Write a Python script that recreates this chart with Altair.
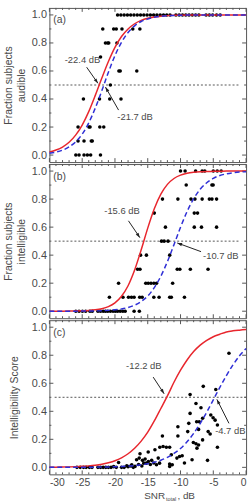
import math
import altair as alt
import pandas as pd

FONT = "Liberation Sans"
GRAY = "#4a4a4a"
FRAME = "#555555"
RED = "#e8262d"
BLUE = "#2f2fd6"

W, H = 199, 156
XDOM = [-30, 0]
YDOM = [-0.05, 1.05]

# ---------------- data ----------------
x_major = [-30, -25, -20, -15, -10, -5, 0]
x_minor = [-29, -28, -27, -26, -24, -23, -22, -21, -19, -18, -17, -16,
           -14, -13, -12, -11, -9, -8, -7, -6, -4, -3, -2, -1]
y_major = [0.0, 0.2, 0.4, 0.6, 0.8, 1.0]
y_minor = [0.1, 0.3, 0.5, 0.7, 0.9]

curve_x = [-30, -29, -28, -27, -26, -25, -24, -23, -22, -21, -20, -19, -18, -17, -16,
           -15, -14, -13, -12, -11, -10, -9, -8, -7, -6, -5, -4, -3, -2, -1, 0]

# (a) audible
a_red = [0.022, 0.036, 0.057, 0.091, 0.142, 0.214, 0.31, 0.426, 0.55, 0.668, 0.769, 0.846,
         0.90, 0.937, 0.961, 0.976, 0.985, 0.991, 0.995, 0.997, 0.998, 0.999,
         1.0, 1.0, 1.0, 1.0, 1.0, 1.0, 1.0, 1.0, 1.0]
a_blue = [0.0125, 0.021, 0.035, 0.058, 0.094, 0.149, 0.23, 0.336, 0.46, 0.591, 0.71, 0.805,
          0.875, 0.922, 0.953, 0.971, 0.983, 0.99, 0.994, 0.996, 0.998, 0.999,
          1.0, 1.0, 1.0, 1.0, 1.0, 1.0, 1.0, 1.0, 1.0]
a_rows = [
    (1.0, [-19.6, -19.1, -18.6, -18.1, -17.6, -17.1, -16.6, -16.1, -15.6, -15.1, -14.6,
           -14.1, -13.6, -13.1, -12.6, -12.1, -11.6, -10.7, -10.2, -9.7, -9.2, -8.7, -8.2,
           -7.7, -7.2, -6.1, -5.6, -5.1, -4.5, -3.95]),
    (0.9, [-21.86, -20.2, -19.8, -18.93, -17.28, -16.2]),
    (0.8, [-21.45, -21.1, -20.95, -19.7]),
    (0.7, [-22.2]),
    (0.6, [-19.4, -19.2, -16.67]),
    (0.5, [-20.7]),
    (0.4, [-24.81, -22.36, -20.8, -19.08]),
    (0.2, [-25.63, -23.97, -23.8, -22.31, -21.71]),
    (0.1, [-25.63, -24.72, -23.61, -23.46]),
    (0.0, [-25.97, -25.48, -24.72, -24.21, -23.71, -22.21]),
]

# (b) intelligible
b_red = [0.0001, 0.0002, 0.0004, 0.0008, 0.0015, 0.0028, 0.0052, 0.0097, 0.018, 0.033, 0.06,
         0.107, 0.182, 0.294, 0.438, 0.593, 0.731, 0.835, 0.905, 0.947, 0.971, 0.984, 0.991,
         0.995, 0.997, 0.998, 0.999, 1.0, 1.0, 1.0, 1.0]
b_blue = [0.0001, 0.0001, 0.0002, 0.0003, 0.0005, 0.0008, 0.0014, 0.0022, 0.0037, 0.006,
          0.0099, 0.0163, 0.0266, 0.0431, 0.0691, 0.109, 0.168, 0.25, 0.354, 0.475, 0.599,
          0.711, 0.802, 0.87, 0.917, 0.948, 0.968, 0.98, 0.988, 0.993, 0.995]
b_rows = [
    (1.0, [-10.0, -9.3, -7.7, -6.7, -6.3, -5.0, -4.4, -3.8]),
    (0.9, [-9.13, -5.21, -5.02]),
    (0.8, [-12.75, -10.4, -8.4, -7.8, -6.7, -5.6, -5.2, -4.5]),
    (0.7, [-14.0, -7.9, -7.4]),
    (0.6, [-12.3, -7.9, -6.8, -4.5]),
    (0.5, [-12.9, -12.5, -11.9]),
    (0.4, [-16.1, -15.2, -11.65]),
    (0.3, [-16.55, -16.18, -10.5, -10.1, -8.5, -5.8]),
    (0.2, [-19.45, -15.3, -14.92, -14.5, -14.06, -13.66, -11.2]),
    (0.1, [-20.85, -18.78, -17.94, -17.48, -17.08, -16.23, -15.85, -14.07, -13.27, -11.65,
           -11.4, -9.4]),
    (0.0, [-25.97, -25.48, -24.96, -24.47, -23.82, -23.46, -22.6, -22.2, -21.8, -21.45,
           -21.1, -20.7, -20.3, -19.94, -19.6, -19.2, -18.8, -18.44, -17.08, -16.28]),
]

# (c) intelligibility score
c_red = [0.001, 0.0015, 0.0023, 0.0034, 0.005, 0.0072, 0.0106, 0.0155, 0.0225, 0.033, 0.047,
         0.068, 0.097, 0.136, 0.187, 0.251, 0.331, 0.42, 0.51, 0.607, 0.693, 0.766, 0.826,
         0.872, 0.906, 0.932, 0.95, 0.966, 0.974, 0.979, 0.983]
c_blue = [0.0001, 0.0002, 0.0003, 0.0004, 0.0005, 0.0007, 0.001, 0.0015, 0.0021, 0.003,
          0.0044, 0.0063, 0.009, 0.0128, 0.018, 0.026, 0.036, 0.051, 0.071, 0.099, 0.135,
          0.182, 0.242, 0.313, 0.394, 0.482, 0.571, 0.655, 0.731, 0.796, 0.848]
c_x = [-2.61, -6.53, -4.62, -8.54, -7.64, -6.88, -8.54, -5.38, -5.03, -4.72, -6.63, -7.54,
       -7.14, -4.37, -10.4, -8.74, -7.24, -8.9, -5.78, -5.48, -10.4, -6.63, -8.04, -7.64,
       -7.24, -7.49, -4.37, -12.76, -13.16, -12.66, -12.16, -11.66, -13.9, -14.93, -11.4,
       -11.66, -11.26, -10.15, -10.55, -9.75, -8.24, -9.4, -5.88, -16.18, -19.45, -16.7,
       -16.3, -15.8, -15.4, -14.9, -14.4, -14.07, -13.67, -18.2, -17.44, -16.94, -15.2,
       -13.4, -18.0, -17.6, -17.2, -16.4, -15.9, -15.6, -14.6, -13.2, -11.65,
       -25.8, -25.3, -24.8, -24.4, -23.9, -23.5, -22.6, -22.2, -21.8, -21.4, -21.0, -20.6,
       -20.2, -19.8, -19.0, -18.6]
c_y = [0.814, 0.578, 0.555, 0.519, 0.455, 0.425, 0.385, 0.373, 0.354, 0.337, 0.35, 0.326,
       0.326, 0.302, 0.29, 0.314, 0.271, 0.255, 0.255, 0.238, 0.224, 0.196, 0.177, 0.168,
       0.16, 0.137, 0.144, 0.224, 0.144, 0.149, 0.144, 0.144, 0.125, 0.109, 0.09,
       0.024, 0.019, 0.078, 0.066, 0.083, 0.054, 0.031, 0.05, 0.097, 0.035, 0.054,
       0.066, 0.05, 0.059, 0.042, 0.05, 0.031, 0.019, 0.012, 0.019, 0.007, 0.03,
       0.066, 0.005, 0.01, 0.0, 0.02, 0.01, 0.03, 0.02, 0.03, 0.007,
       0.0, 0.0, 0.0, 0.0, 0.0, 0.0, 0.0, 0.0, 0.0, 0.0, 0.0, 0.0,
       0.005, 0.0, 0.0, 0.0]

# annotations: (text, x, y) and arrows (x1, y1, x2, y2)
a_texts = [("-22.4 dB", -24.96, 0.675), ("-21.7 dB", -16.93, 0.274)]
a_arrows = [(-24.32, 0.627, -22.6, 0.512), (-19.45, 0.321, -21.45, 0.485)]
b_texts = [("-15.6 dB", -18.93, 0.718), ("-10.7 dB", -3.86, 0.394)]
b_arrows = [(-17.94, 0.645, -16.2, 0.525), (-6.87, 0.425, -10.5, 0.487)]
c_texts = [("-12.2 dB", -15.6, 0.724), ("-4.7 dB", -2.41, 0.262)]
c_arrows = [(-14.17, 0.644, -12.5, 0.525), (-2.61, 0.314, -4.45, 0.485)]

hline_start = -29.2
a_hline_end = -1.1
b_hline_end = -1.1
c_hline_end = 0.1

x_title_parts = ["SNR", "total", ", dB"]


def rows_to_df(rows):
    xs, ys = [], []
    for yv, xl in rows:
        for xv in xl:
            xs.append(xv)
            ys.append(yv)
    return pd.DataFrame({"x": xs, "y": ys})


def make_panel(pts, red, blue, hl_end, texts, arrows, tag, ytitle, tpad, bottom):
    xs = alt.Scale(domain=XDOM, nice=False, zero=False)
    ys = alt.Scale(domain=YDOM, nice=False, zero=False)
    if bottom:
        xaxis = alt.Axis(values=x_major, ticks=False, tickSize=0, domain=False, grid=False,
                         labelExpr="toString(datum.value)", labelFontSize=10.5,
                         labelColor=GRAY, labelFont=FONT, labelPadding=3, title=None)
    else:
        xaxis = None
    yaxis = alt.Axis(values=y_major, format=".1f", ticks=False, tickSize=0, domain=False,
                     grid=False, labelFontSize=11, labelColor=GRAY, labelFont=FONT,
                     labelPadding=3, title=ytitle, titleFont=FONT, titleFontSize=10.5,
                     titleFontWeight="normal", titleColor=GRAY, titlePadding=tpad)

    def X(f):
        return alt.X(f, type="quantitative", scale=xs, axis=xaxis)

    def Y(f):
        return alt.Y(f, type="quantitative", scale=ys, axis=yaxis)

    layers = []
    # inward ticks on all four sides
    for vals, ln in ((x_major, 4), (x_minor, 2)):
        d = pd.DataFrame({"v": vals})
        layers.append(alt.Chart(d).mark_rule(color=FRAME, strokeWidth=1).encode(
            x=X("v"), y=alt.value(0), y2=alt.value(ln)))
        layers.append(alt.Chart(d).mark_rule(color=FRAME, strokeWidth=1).encode(
            x=X("v"), y=alt.value(H), y2=alt.value(H - ln)))
    for vals, ln in ((y_major, 4), (y_minor, 2)):
        d = pd.DataFrame({"v": vals})
        layers.append(alt.Chart(d).mark_rule(color=FRAME, strokeWidth=1).encode(
            y=Y("v"), x=alt.value(0), x2=alt.value(ln)))
        layers.append(alt.Chart(d).mark_rule(color=FRAME, strokeWidth=1).encode(
            y=Y("v"), x=alt.value(W), x2=alt.value(W - ln)))

    # dotted 0.5 line
    hl = pd.DataFrame({"x1": [hline_start], "x2": [hl_end], "y": [0.5]})
    layers.append(alt.Chart(hl).mark_rule(strokeDash=[2, 2], color="#555555",
                                          strokeWidth=1).encode(
        x=X("x1"), x2="x2:Q", y=Y("y")))

    # points
    layers.append(alt.Chart(pts).mark_circle(size=13, color="black", opacity=1).encode(
        x=X("x"), y=Y("y")))

    # curves
    cd = pd.DataFrame({"x": curve_x, "red": red, "blue": blue})
    layers.append(alt.Chart(cd).mark_line(color=RED, strokeWidth=1.5,
                                          interpolate="monotone").encode(
        x=X("x"), y=Y("red")))
    layers.append(alt.Chart(cd).mark_line(color=BLUE, strokeWidth=1.5, strokeDash=[5, 3],
                                          interpolate="monotone").encode(
        x=X("x"), y=Y("blue")))

    # arrows
    sx = W / 30.0
    sy = H / 1.1
    ar = []
    for (x1, y1, x2, y2) in arrows:
        dx = (x2 - x1) * sx
        dy = -(y2 - y1) * sy
        ang = math.degrees(math.atan2(dx, -dy)) % 360
        ar.append({"x1": x1, "y1": y1, "x2": x2, "y2": y2, "ang": ang})
    ard = pd.DataFrame(ar)
    layers.append(alt.Chart(ard).mark_rule(color="#222222", strokeWidth=1).encode(
        x=X("x1"), y=Y("y1"), x2="x2:Q", y2="y2:Q"))
    layers.append(alt.Chart(ard).mark_point(shape="M0,0L-0.75,2.2L0.75,2.2Z", filled=True,
                                            size=20, color="#222222", opacity=1).encode(
        x=X("x2"), y=Y("y2"), angle=alt.Angle("ang:Q", scale=None)))

    # annotation text
    td = pd.DataFrame({"t": [t[0] for t in texts], "x": [t[1] for t in texts],
                       "y": [t[2] for t in texts]})
    layers.append(alt.Chart(td).mark_text(font=FONT, fontSize=9.5, color=GRAY,
                                          align="center", baseline="middle").encode(
        x=X("x"), y=Y("y"), text="t:N"))

    # panel tag
    tg = pd.DataFrame({"t": [tag], "x": [-29.4], "y": [0.96]})
    layers.append(alt.Chart(tg).mark_text(font=FONT, fontSize=10.5, color=GRAY,
                                          align="left", baseline="middle").encode(
        x=X("x"), y=Y("y"), text="t:N"))

    if bottom:
        specs = [(x_title_parts[0], 96, 181, 10), (x_title_parts[1], 118, 182.5, 5.5),
                 (x_title_parts[2], 129.5, 181, 10)]
        for (t, px, py, fs) in specs:
            layers.append(alt.Chart(pd.DataFrame({"t": [t]})).mark_text(
                font=FONT, fontSize=fs, color=GRAY, align="left",
                baseline="alphabetic").encode(
                x=alt.value(px), y=alt.value(py), text="t:N"))

    return alt.layer(*layers).properties(width=W, height=H)


pa = make_panel(rows_to_df(a_rows), a_red, a_blue, a_hline_end, a_texts, a_arrows, "(a)",
                ["Fraction subjects", "audible"], 5, False)
pb = make_panel(rows_to_df(b_rows), b_red, b_blue, b_hline_end, b_texts, b_arrows, "(b)",
                ["Fraction subjects", "intelligible"], 5, False)
pc = make_panel(pd.DataFrame({"x": c_x, "y": c_y}), c_red, c_blue, c_hline_end, c_texts,
                c_arrows, "(c)", "Intelligibility Score", 12, True)

chart = alt.vconcat(pa, pb, pc, spacing=0).properties(
    padding={"left": 3, "top": 4, "right": 2, "bottom": 0},
    background="white",
).configure_view(stroke=FRAME, strokeWidth=1).configure_axis(titleLineHeight=13)

chart.save("out.html", embed_options={"renderer": "svg", "actions": False})
